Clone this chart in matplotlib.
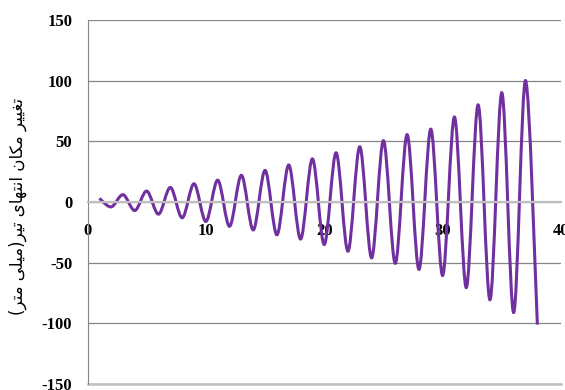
import matplotlib
matplotlib.use("Agg")
import matplotlib.pyplot as plt
from matplotlib.path import Path
from matplotlib.patches import PathPatch

plt.rcParams["axes.unicode_minus"] = False

# peaks / troughs
x_vals = list(range(1, 39))
y_vals = [3, -4, 6, -7, 9, -10, 12, -13, 15, -16,
          18, -20, 22, -23, 26, -27, 30.5, -30.5, 35.5, -35,
          40.5, -40.5, 45.5, -46, 50.5, -50.5, 55.5, -55.5, 60, -60.5,
          70, -70.5, 80, -80.5, 90, -91, 100, -101]

y_ticks = [-150, -100, -50, 0, 50, 100, 150]
x_ticks = [0, 10, 20, 30, 40]
y_label = "تغییر مکان انتهای تیر(میلی متر)"

# arabic shaping by hand (matplotlib does no shaping / bidi)
forms = {
    "ت": ("\uFE95", "\uFE96", "\uFE97", "\uFE98"),
    "غ": ("\uFECD", "\uFECE", "\uFECF", "\uFED0"),
    "ی": ("\uFEEF", "\uFEF0", "\uFEF3", "\uFEF4"),
    "ر": ("\uFEAD", "\uFEAE", None, None),
    "م": ("\uFEE1", "\uFEE2", "\uFEE3", "\uFEE4"),
    "ک": ("\uFED9", "\uFEDA", "\uFEDB", "\uFEDC"),
    "ا": ("\uFE8D", "\uFE8E", None, None),
    "ن": ("\uFEE5", "\uFEE6", "\uFEE7", "\uFEE8"),
    "ه": ("\uFEE9", "\uFEEA", "\uFEEB", "\uFEEC"),
    "ل": ("\uFEDD", "\uFEDE", "\uFEDF", "\uFEE0"),
}

def shape(s):
    out = []
    for i, c in enumerate(s):
        if c not in forms:
            out.append({"(": ")", ")": "("}.get(c, c))
            continue
        p = s[i-1] if i > 0 else ""
        n = s[i+1] if i < len(s)-1 else ""
        cp = p in forms and forms[p][2] is not None
        cn = n in forms and forms[c][2] is not None
        if cp and cn:
            out.append(forms[c][3])
        elif cp:
            out.append(forms[c][1])
        elif cn:
            out.append(forms[c][2])
        else:
            out.append(forms[c][0])
    return "".join(out[::-1])

# excel-like smoothed line: catmull-rom as cubic bezier
verts = [(x_vals[0], y_vals[0])]
codes = [Path.MOVETO]
n = len(x_vals)
for i in range(n-1):
    x0, y0 = x_vals[max(i-1, 0)], y_vals[max(i-1, 0)]
    x1, y1 = x_vals[i], y_vals[i]
    x2, y2 = x_vals[i+1], y_vals[i+1]
    x3, y3 = x_vals[min(i+2, n-1)], y_vals[min(i+2, n-1)]
    verts += [(x1 + (x2-x0)/6, y1 + (y2-y0)/6),
              (x2 - (x3-x1)/6, y2 - (y3-y1)/6),
              (x2, y2)]
    codes += [Path.CURVE4]*3

fig = plt.figure(figsize=(5.65, 3.9), dpi=100)
ax = fig.add_axes([0.155, 0.0154, 0.838, 0.9333])

ax.set_xlim(0, 40)
ax.set_ylim(-150, 150)
ax.set_yticks(y_ticks)
ax.set_xticks(x_ticks)
ax.grid(axis="y", color="#868686", lw=0.9)
ax.set_axisbelow(True)

ax.spines["right"].set_visible(False)
ax.spines["top"].set_visible(False)
ax.spines["left"].set_color("#868686")
ax.spines["bottom"].set_position(("data", 0))
ax.spines["bottom"].set_color("#BFBFBF")
ax.spines["bottom"].set_linewidth(1.6)
ax.axhline(-150, color="#BFBFBF", lw=1.8, clip_on=False)

ax.tick_params(length=0)
ax.tick_params(axis="y", pad=11)
ax.tick_params(axis="x", pad=15)
for lab in ax.get_xticklabels() + ax.get_yticklabels():
    lab.set_fontfamily("Liberation Serif")
    lab.set_fontweight("bold")
    lab.set_fontsize(12)

ax.add_patch(PathPatch(Path(verts, codes), fill=False, edgecolor="#7030A0", lw=2.2, capstyle="butt"))

fig.text(0.032, 0.47, shape(y_label), rotation=90, ha="center", va="center",
         fontsize=12, family="DejaVu Sans")

fig.savefig("out.png", dpi=100)
